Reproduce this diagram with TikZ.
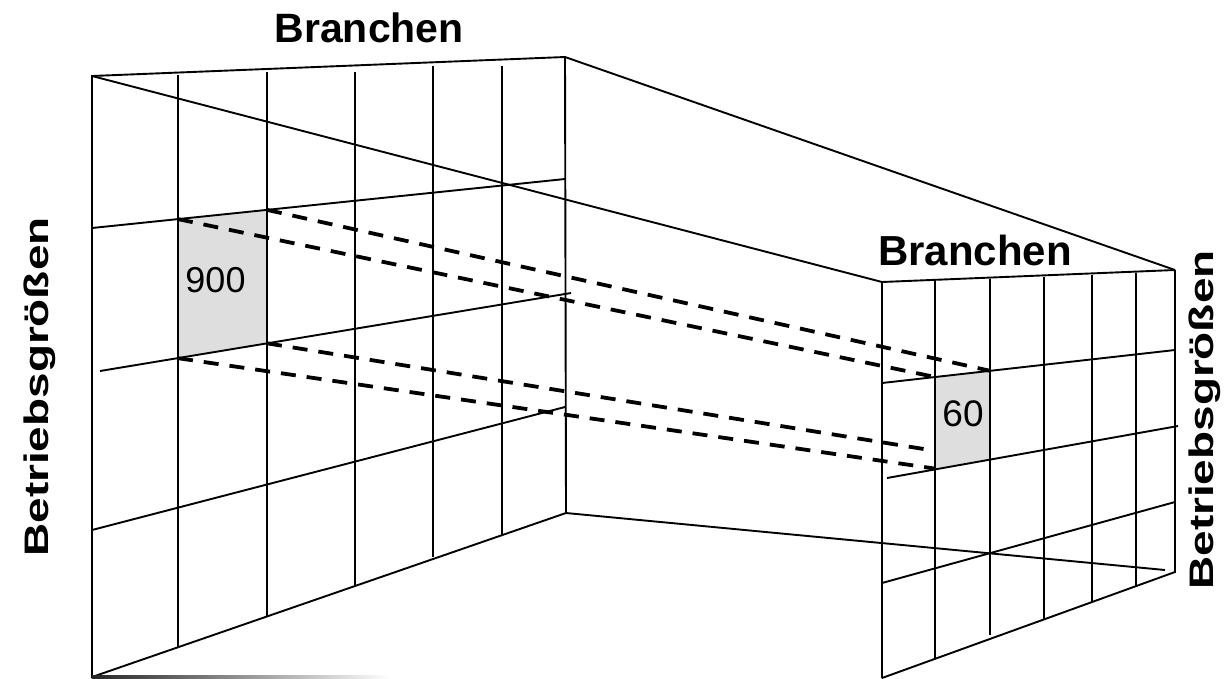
\documentclass[tikz,border=0pt]{standalone}
\usepackage{fontspec}
\setmainfont{Liberation Sans}
\usepackage{graphicx}
\definecolor{cellgray}{RGB}{222,222,222}
\begin{document}
\begin{tikzpicture}[x=1pt,y=-1pt,
  grid/.style={line width=1.9pt},
  link/.style={line width=3.8pt, dash pattern=on 15pt off 11pt},
  cellfill/.style={fill=cellgray},
  title/.style={font=\bfseries\fontsize{41}{41}\selectfont, inner sep=0pt, anchor=base},
  num/.style={font=\fontsize{36}{36}\selectfont, inner sep=0pt},
  side/.style={font=\bfseries\fontsize{34}{34}\selectfont, inner sep=0pt, anchor=base, rotate=90}
]
\useasboundingbox (0,0) rectangle (1230,678);
\begin{scope}
\clip (0,0) rectangle (1230,678);
% ---- corners
\coordinate (LTL) at (92,76);
\coordinate (LTR) at (565,57);
\coordinate (LBR) at (566,513);
\coordinate (LBL) at (92,677);
\coordinate (RTL) at (882,282);
\coordinate (RTR) at (1175,270);
\coordinate (RBR) at (1175,572);
\coordinate (RBL) at (882,678);
% ---- highlighted cells
\coordinate (a1) at (178,219.1);
\coordinate (a2) at (267,209.9);
\coordinate (a3) at (267,343.3);
\coordinate (a4) at (178,358.2);
\coordinate (b1) at (935,377.0);
\coordinate (b2) at (990,370.8);
\coordinate (b3) at (990,460.0);
\coordinate (b4) at (935,468.6);
\coordinate (b5) at (933,450.5);
\fill[cellfill] (a1) -- (a2) -- (a3) -- (a4) -- cycle;
\fill[cellfill] (b1) -- (b2) -- (b3) -- (b4) -- cycle;
% ---- perspective connectors
\draw[grid] (LTL) -- (RTL);
\draw[grid] (LTR) -- (RTR);
\coordinate (bend) at (1165,570);
\draw[grid] (LBR) -- (bend);
% ---- left panel
\draw[grid] (LTL) -- (LTR) -- (LBR) -- (LBL) -- cycle;
\draw[grid] (178,75) -- (178,647.2);
\draw[grid] (267,72) -- (267,616.5);
\draw[grid] (355,72) -- (355,586.0);
\draw[grid] (433,66) -- (433,556.5);
\draw[grid] (502,66) -- (502,535.1);
\draw[grid] (92,228) -- (565,179);
\draw[grid] (100,371) -- (571,293);
\draw[grid] (92,530) -- (565,407);
\shade[left color=black!85, right color=white] (92,675.8) rectangle (390,678);
% ---- right panel
\draw[grid] (RTR) -- (RTL) -- (RBL);
\draw[grid] (RTR) -- (RBR) -- (RBL);
\draw[grid] (935,281.3) -- (935,658.8);
\draw[grid] (990,279.1) -- (990,635);
\draw[grid] (1044,276.9) -- (1044,619.4);
\draw[grid] (1092,274.9) -- (1092,602.0);
\draw[grid] (1136,273.1) -- (1136,586.1);
\draw[grid] (882,383) -- (1175,350);
\draw[grid] (887,478) -- (1178,426);
\draw[grid] (882,583) -- (1175,502);
% ---- dashed projections
\draw[link] (a1) -- (b1);
\draw[link] (a2) -- (b2);
\draw[link] (a4) -- (b4);
\draw[link] (a3) -- (b5);
\end{scope}
% ---- labels
\node[title] (t1) at (369.2,42.7) {Branchen};
\node[title, font=\bfseries\fontsize{42}{42}\selectfont] (t2) at (975,265) {Branchen};
\node[side] (s1) at (48.5,387) {\scalebox{1.35}[1]{Betriebsgrößen}};
\node[side] (s2) at (1213,420) {\scalebox{1.35}[1]{Betriebsgrößen}};
\node[num] (n1) at (215.5,280) {900};
\node[num, font=\fontsize{37}{37}\selectfont] (n2) at (963,413.3) {60};
\end{tikzpicture}
\end{document}
